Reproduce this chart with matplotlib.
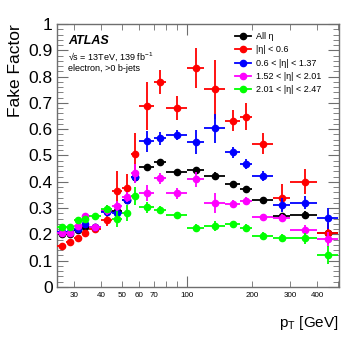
import matplotlib
matplotlib.use("Agg")
import matplotlib.pyplot as plt
from matplotlib.ticker import FixedLocator, MultipleLocator, FuncFormatter
from matplotlib.lines import Line2D
import numpy as np

plt.rcParams['font.family'] = ['Liberation Sans', 'DejaVu Sans']

# bin edges in pT [GeV]
edges = [25, 27.5, 30, 32.5, 35, 40, 45, 50, 55, 60, 70, 80, 100, 120, 150, 175, 200, 250, 300, 400, 500]

ff_all = [0.200, 0.200, 0.218, 0.230, 0.228, 0.290, 0.288, 0.330, 0.420, 0.457, 0.476, 0.438,
          0.445, 0.422, 0.392, 0.374, 0.330, 0.270, 0.274, 0.206]
err_all = [0.005, 0.005, 0.005, 0.006, 0.006, 0.010, 0.010, 0.010, 0.012, 0.012, 0.010, 0.010,
           0.012, 0.015, 0.010, 0.010, 0.010, 0.012, 0.015, 0.030]

ff_eta1 = [0.157, 0.171, 0.185, 0.207, 0.222, 0.256, 0.366, 0.378, 0.506, 0.688, 0.780, 0.680,
           0.832, 0.752, 0.632, 0.648, 0.544, 0.340, 0.400, 0.205]
err_eta1 = [0.005, 0.006, 0.007, 0.008, 0.010, 0.025, 0.075, 0.050, 0.080, 0.090, 0.045, 0.045,
            0.075, 0.112, 0.040, 0.050, 0.040, 0.050, 0.048, 0.040]

ff_eta2 = [0.208, 0.210, 0.220, 0.240, 0.227, 0.286, 0.283, 0.330, 0.417, 0.554, 0.565, 0.578,
           0.552, 0.603, 0.512, 0.468, 0.422, 0.312, 0.320, 0.261]
err_eta2 = [0.006, 0.006, 0.006, 0.007, 0.008, 0.015, 0.020, 0.015, 0.020, 0.040, 0.025, 0.020,
            0.045, 0.055, 0.020, 0.020, 0.020, 0.025, 0.025, 0.040]

ff_eta3 = [0.207, 0.207, 0.232, 0.270, 0.228, 0.292, 0.308, 0.343, 0.432, 0.356, 0.413, 0.356,
           0.409, 0.318, 0.314, 0.328, 0.267, 0.264, 0.217, 0.181]
err_eta3 = [0.008, 0.008, 0.008, 0.010, 0.010, 0.020, 0.020, 0.020, 0.035, 0.030, 0.020, 0.020,
            0.030, 0.038, 0.015, 0.015, 0.012, 0.015, 0.020, 0.030]

ff_eta4 = [0.230, 0.227, 0.255, 0.257, 0.270, 0.298, 0.258, 0.282, 0.347, 0.303, 0.292, 0.272,
           0.223, 0.232, 0.240, 0.226, 0.194, 0.185, 0.185, 0.122]
err_eta4 = [0.010, 0.010, 0.010, 0.010, 0.012, 0.015, 0.030, 0.030, 0.035, 0.020, 0.015, 0.015,
            0.015, 0.020, 0.012, 0.012, 0.015, 0.015, 0.020, 0.035]

labels = ["All \u03b7", "|\u03b7| < 0.6", "0.6 < |\u03b7| < 1.37",
          "1.52 < |\u03b7| < 2.01", "2.01 < |\u03b7| < 2.47"]
colors = ["black", "#ff0000", "#0000ff", "#ff00ff", "#00ff00"]

edges_a = np.array(edges, dtype=float)
centers = 0.5 * (edges_a[:-1] + edges_a[1:])
xlo = centers - edges_a[:-1]
xhi = edges_a[1:] - centers

W, H = 357, 343
fig = plt.figure(figsize=(W/100, H/100), dpi=100)
ax = fig.add_axes([57/W, (H-287)/H, (339-57)/W, (287-24)/H])

series = [(ff_all, err_all), (ff_eta1, err_eta1), (ff_eta2, err_eta2),
          (ff_eta3, err_eta3), (ff_eta4, err_eta4)]
draw_order = [1, 0, 2, 3, 4]
for i in draw_order:
    y, e = series[i]
    ax.errorbar(centers, y, yerr=e, xerr=[xlo, xhi], fmt='o', color=colors[i],
                ms=4.5, elinewidth=1.3, capsize=0, zorder=2+i)

handles = [Line2D([], [], color=c, marker='o', ms=4.5, lw=1.3) for c in colors]

ax.set_xscale('log')
ax.set_xlim(25, 505)
ax.set_ylim(0, 1)

framecol = '#6e6e6e'
for s in ax.spines.values():
    s.set_color(framecol)
    s.set_linewidth(1.0)

ax.xaxis.set_major_locator(FixedLocator([100]))
ax.xaxis.set_minor_locator(FixedLocator([30, 40, 50, 60, 70, 80, 90, 200, 300, 400, 500]))
ax.xaxis.set_major_formatter(FuncFormatter(lambda v, p: "%d" % v))
minor_lab = {30: "30", 40: "40", 50: "50", 60: "60", 70: "70", 200: "200", 300: "300", 400: "400"}
ax.xaxis.set_minor_formatter(FuncFormatter(lambda v, p: minor_lab.get(int(round(v)), "")))

ax.yaxis.set_major_locator(MultipleLocator(0.1))
ax.yaxis.set_minor_locator(MultipleLocator(0.02))
ax.yaxis.set_major_formatter(FuncFormatter(lambda v, p: ("%g" % round(v, 2))))

ax.tick_params(which='both', direction='in', top=True, right=True, color=framecol)
ax.tick_params(axis='y', which='major', length=8, labelsize=12.5, pad=3)
ax.tick_params(axis='y', which='minor', length=4)
ax.tick_params(axis='x', which='major', length=8, labelsize=5.8, pad=3.5)
ax.tick_params(axis='x', which='minor', length=4, labelsize=5.8, pad=3.5)

ax.set_ylabel("Fake Factor", fontsize=12.5, loc='top', labelpad=4)
ax.set_xlabel("p$_{\\mathregular{T}}$ [GeV]", fontsize=11, loc='right', labelpad=11)

fig.text(68/W, 1 - 44/H, "ATLAS", fontsize=9, fontweight='bold', fontstyle='italic')
fig.text(68/W, 1 - 60/H, "\u221as = 13TeV, 139 fb$^{\\mathregular{-1}}$", fontsize=6.5)
fig.text(68/W, 1 - 71/H, "electron, >0 b-jets", fontsize=6.5)

ax.legend(handles=handles, labels=labels, loc='upper left',
          bbox_to_anchor=((235 - 57)/282, (287 - 32)/263), frameon=False,
          fontsize=6.5, handlelength=1.8, handletextpad=0.5, labelspacing=0.48,
          borderaxespad=0, borderpad=0)

fig.savefig("out.png", dpi=100)
